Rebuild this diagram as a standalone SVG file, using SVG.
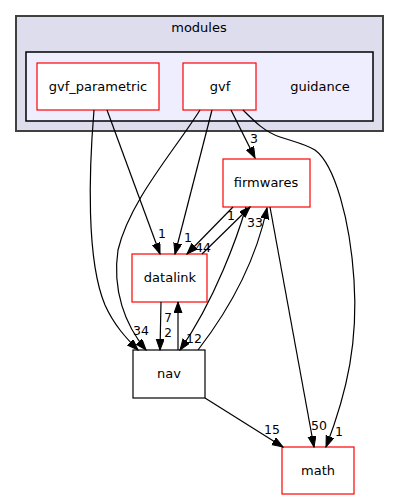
<svg xmlns="http://www.w3.org/2000/svg" width="400" height="500" viewBox="0 0 400 500">
<defs>
<marker id="ah" markerUnits="userSpaceOnUse" markerWidth="12" markerHeight="9" refX="11" refY="4" orient="auto" viewBox="0 0 12 9">
<path d="M0,0 L11,4 L0,8 z" fill="#000" stroke="#000" stroke-width="1"/>
</marker>
<style>
text{font-family:"DejaVu Sans","Liberation Sans",sans-serif;font-size:13px;fill:#000;text-anchor:middle}
.lbl{font-size:12.5px}
.sm{font-size:12px}
.node{fill:#fff;stroke:#ff0000;stroke-width:1.2}
.plain{fill:#fff;stroke:#000;stroke-width:1.2}
.edge path{fill:none;stroke:#000;stroke-width:1.2;marker-end:url(#ah)}
</style>
</defs>
<rect width="400" height="500" fill="#fff"/>
<g id="cluster_modules">
<rect x="16" y="16" width="367" height="115" fill="#ddddee" stroke="#404040" stroke-width="2"/>
<text x="199" y="32">modules</text>
</g>
<g id="cluster_guidance">
<rect x="26" y="52" width="347" height="69" fill="#eeeeff" stroke="#000" stroke-width="1.5"/>
<text x="320" y="91">guidance</text>
</g>
<g id="node_gvf_parametric">
<rect class="node" x="37" y="63" width="122" height="47"/>
<text x="98" y="91">gvf_parametric</text>
</g>
<g id="node_gvf">
<rect class="node" x="183" y="63" width="73" height="47"/>
<text x="220" y="91">gvf</text>
</g>
<g id="node_firmwares">
<rect class="node" x="223" y="159" width="87" height="48"/>
<text x="266" y="187">firmwares</text>
</g>
<g id="node_datalink">
<rect class="node" x="132" y="254" width="75" height="48"/>
<text x="170" y="282">datalink</text>
</g>
<g id="node_nav">
<rect class="plain" x="133" y="350" width="72" height="48"/>
<text x="169" y="378">nav</text>
</g>
<g id="node_math">
<rect class="node" x="282" y="447" width="72" height="47"/>
<text x="318" y="475">math</text>
</g>
<g id="edges" class="edge">
<path d="M94,110 C89,170 86,260 105,305 C114,325 126,338 138,350"/>
<path d="M200,110 C175,150 130,200 118,250 C112,290 125,325 146,350"/>
<path d="M107,110 L160,254"/>
<path d="M212,110 L175,254"/>
<path d="M231,110 L255,158"/>
<path d="M243,110 C255,122 265,132 280,137 C295,142 305,144 315,150 C335,165 350,220 354,280 C358,340 348,390 326,447"/>
<path d="M270,207 L314,447"/>
<path d="M205,398 L283,447"/>
<path d="M161,302 L160,350"/>
<path d="M178,350 L178,302"/>
<path d="M233,207 L187,254"/>
<path d="M202,254 L250,207"/>
<path d="M246,207 C238,235 215,300 180,350"/>
<path d="M198,350 C225,315 255,265 267,208"/>
</g>
<g id="edge_labels">
<text class="lbl" x="254" y="143">3</text>
<text class="lbl" x="162" y="238">1</text>
<text class="lbl" x="188" y="242">1</text>
<text class="lbl" x="203" y="252">44</text>
<text class="lbl" x="231" y="220">1</text>
<text class="lbl" x="255" y="227">33</text>
<text class="lbl" x="137" y="335">3</text>
<text class="lbl" x="145" y="335">4</text>
<text class="sm" x="168" y="322">7</text>
<text class="sm" x="168" y="337">2</text>
<text class="lbl" x="194" y="343">12</text>
<text class="lbl" x="272" y="434">15</text>
<text class="lbl" x="319" y="430">50</text>
<text class="lbl" x="339" y="436">1</text>
</g>
</svg>
